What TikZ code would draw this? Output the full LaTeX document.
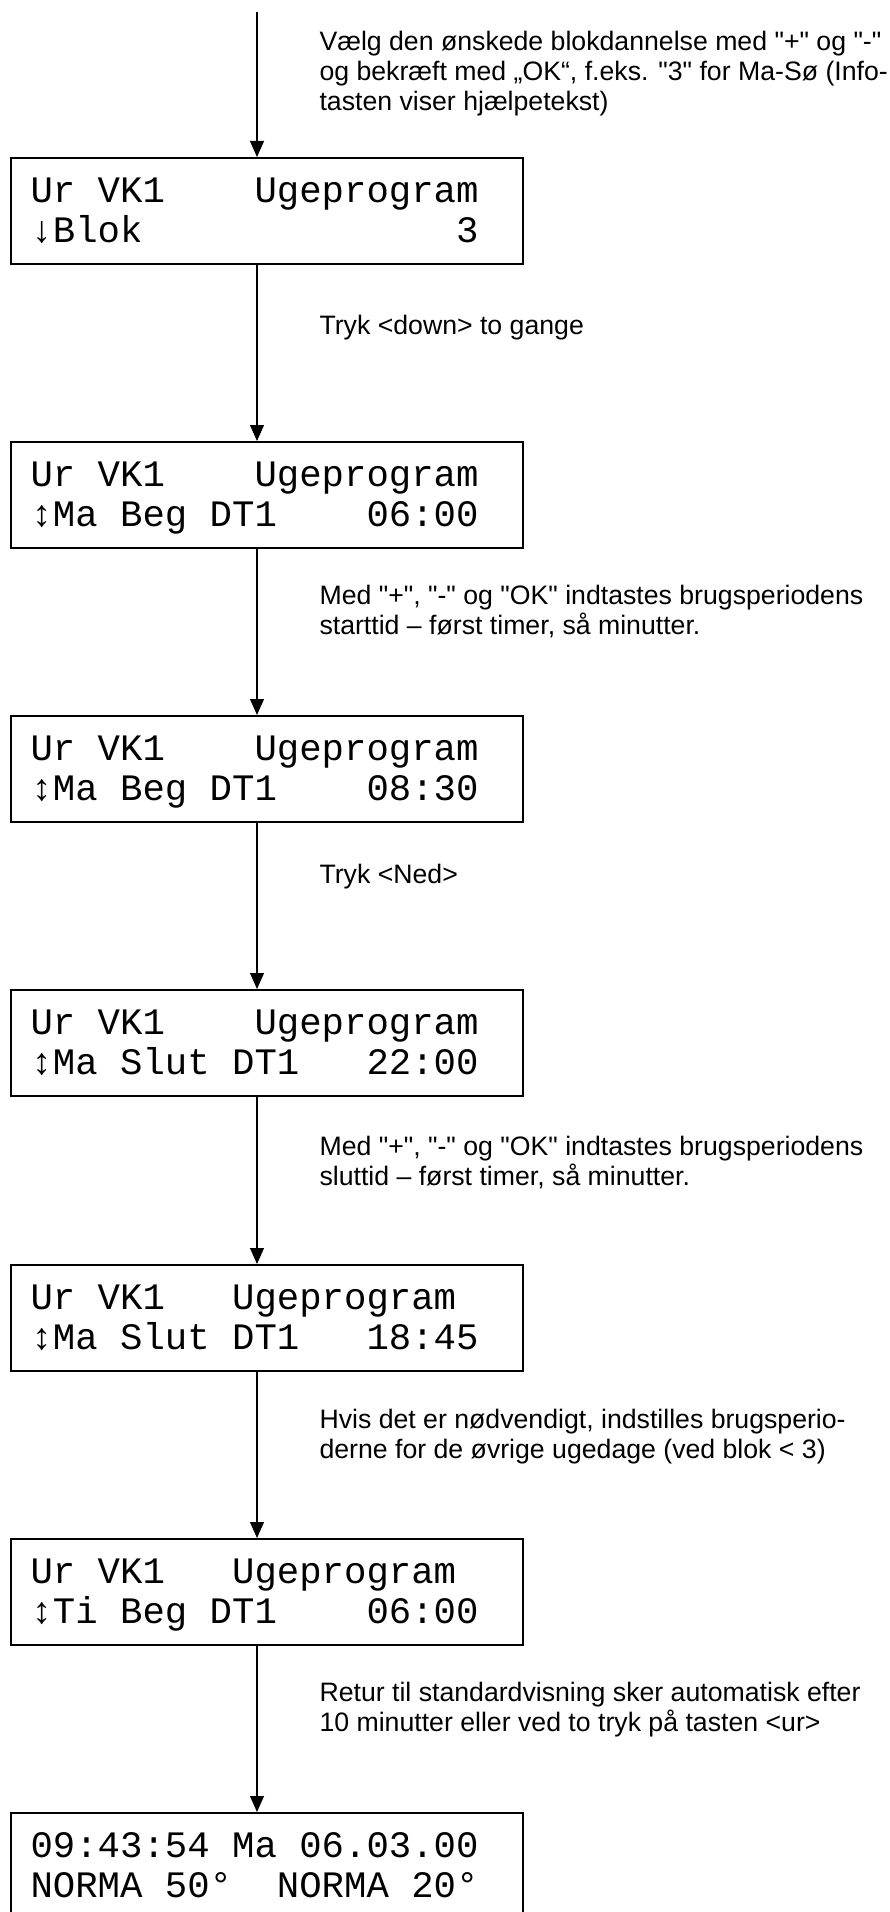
\documentclass[tikz,border=0pt]{standalone}
\usepackage{fontspec}
\setmainfont{Liberation Sans}[Ligatures=TeXOff]
\newfontfamily\lcdfont{Liberation Mono}[Ligatures=TeXOff]
\usetikzlibrary{arrows.meta}
\begin{document}
\begin{tikzpicture}[x=0.375pt,y=-0.375pt,
  box/.style={draw,line width=0.85pt,minimum width=192pt,minimum height=39.75pt,inner sep=0pt,anchor=north west},
  lcd/.style={font=\lcdfont\fontsize{14}{15}\selectfont,align=left,inner sep=0pt,anchor=base west},
  note/.style={font=\fontsize{10}{11.25}\selectfont,align=left,inner sep=0pt,anchor=base west},
  arr/.style={line width=0.6pt,-{Triangle[length=6pt,width=5.2pt]}}]
\useasboundingbox (0,0) rectangle (890,1912);
% boxes
\node[box] (b1) at (10,157) {};
\node[box] (b2) at (10,441) {};
\node[box] (b3) at (10,715) {};
\node[box] (b4) at (10,989) {};
\node[box] (b5) at (10,1264) {};
\node[box] (b6) at (10,1538) {};
\node[box] (b7) at (10,1812) {};
% display texts (anchor = baseline of last line)
\node[lcd] (l1) at (30,242) {Ur VK1~~~~Ugeprogram\\↓Blok~~~~~~~~~~~~~~3};
\node[lcd] (l2) at (30,526) {Ur VK1~~~~Ugeprogram\\↕Ma Beg DT1~~~~06:00};
\node[lcd] (l3) at (30,800) {Ur VK1~~~~Ugeprogram\\↕Ma Beg DT1~~~~08:30};
\node[lcd] (l4) at (30,1074) {Ur VK1~~~~Ugeprogram\\↕Ma Slut DT1~~~22:00};
\node[lcd] (l5) at (30,1349) {Ur VK1~~~Ugeprogram\\↕Ma Slut DT1~~~18:45};
\node[lcd] (l6) at (30,1623) {Ur VK1~~~Ugeprogram\\↕Ti Beg DT1~~~~06:00};
\node[lcd] (l7) at (30,1897) {09:43:54 Ma 06.03.00\\NORMA 50°~~NORMA 20°};
% notes (anchor = baseline of last line)
\node[note] (n1) at (319,111) {Vælg den ønskede blokdannelse med "+" og "-"\\og bekræft med „OK“, f.eks. "3" for Ma-Sø (Info-\\tasten viser hjælpetekst)};
\node[note] (n2) at (319,334) {Tryk <down> to gange};
\node[note] (n3) at (319,634) {Med "+", "-" og "OK" indtastes brugsperiodens\\starttid – først timer, så minutter.};
\node[note] (n4) at (319,883) {Tryk <Ned>};
\node[note] (n5) at (319,1185) {Med "+", "-" og "OK" indtastes brugsperiodens\\sluttid – først timer, så minutter.};
\node[note] (n6) at (319,1458) {Hvis det er nødvendigt, indstilles brugsperio-\\derne for de øvrige ugedage (ved blok < 3)};
\node[note] (n7) at (319,1731) {Retur til standardvisning sker automatisk efter\\10 minutter eller ved to tryk på tasten <ur>};
% arrows
\coordinate (start) at (257,12);
\draw[arr] (start) -- (b1.north -| start);
\draw[arr] (b1.south -| start) -- (b2.north -| start);
\draw[arr] (b2.south -| start) -- (b3.north -| start);
\draw[arr] (b3.south -| start) -- (b4.north -| start);
\draw[arr] (b4.south -| start) -- (b5.north -| start);
\draw[arr] (b5.south -| start) -- (b6.north -| start);
\draw[arr] (b6.south -| start) -- (b7.north -| start);
\end{tikzpicture}
\end{document}
